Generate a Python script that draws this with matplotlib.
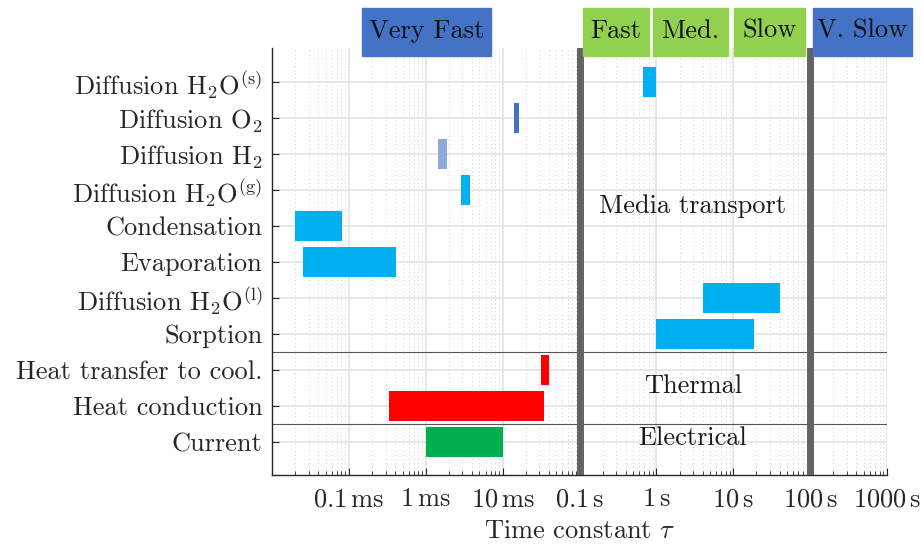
import numpy as np
import matplotlib
matplotlib.use('Agg')
import matplotlib.pyplot as plt
from matplotlib.patches import Rectangle
from matplotlib.ticker import LogLocator, NullFormatter

plt.rcParams['font.family'] = 'serif'
plt.rcParams['font.serif'] = ['cmr10']
plt.rcParams['mathtext.fontset'] = 'cm'
plt.rcParams['axes.formatter.use_mathtext'] = True
FS = 19

# processes, bottom to top; start/end of each time constant range in seconds
labels = ['Current', 'Heat conduction', 'Heat transfer to cool.', 'Sorption',
          r'Diffusion H$_2$O$^{\mathrm{(l)}}$', 'Evaporation', 'Condensation',
          r'Diffusion H$_2$O$^{\mathrm{(g)}}$', r'Diffusion H$_2$',
          r'Diffusion O$_2$', r'Diffusion H$_2$O$^{\mathrm{(s)}}$']
t_start = [1.0e-3, 3.3e-4, 3.2e-2, 1.0, 4.0, 2.5e-5, 2.0e-5, 2.85e-3, 1.43e-3, 1.39e-2, 0.66]
t_end = [1.0e-2, 3.5e-2, 4.0e-2, 18.4, 40.0, 4.1e-4, 8.2e-5, 3.75e-3, 1.9e-3, 1.65e-2, 1.0]
colors = ['#00b050', '#ff0000', '#ff0000', '#00b0f0', '#00b0f0', '#00b0f0', '#00b0f0',
          '#00b0f0', '#8eaadb', '#4472c4', '#00b0f0']

tick_vals = [1e-4, 1e-3, 1e-2, 1e-1, 1, 10, 100, 1000]
tick_labels = [r'$0.1\,\mathrm{ms}$', r'$1\,\mathrm{ms}$', r'$10\,\mathrm{ms}$', r'$0.1\,\mathrm{s}$',
               r'$1\,\mathrm{s}$', r'$10\,\mathrm{s}$', r'$100\,\mathrm{s}$', r'$1000\,\mathrm{s}$']
class_bounds = [0.1, 100]   # thick lines between speed classes
group_bounds = [1.5, 3.5]   # electrical / thermal / media
groups = ['Media transport', 'Thermal', 'Electrical']
group_y = [7.56, 2.54, 1.11]

# header boxes (pixel boxes left, right) and colours
headers = ['Very Fast', 'Fast', 'Med.', 'Slow', 'V. Slow']
head_px = [(362, 491), (583, 649), (653, 728), (734, 805), (813, 912)]
head_col = ['#4472c4', '#92d050', '#92d050', '#92d050', '#4472c4']

W, H = 923, 549
fig = plt.figure(figsize=(W / 100, H / 100), dpi=100)
ax = fig.add_axes([272 / W, 1 - 475 / H, (887 - 272) / W, (475 - 48) / H])

y = np.arange(1, len(labels) + 1)
widths = np.array(t_end) - np.array(t_start)
ax.barh(y, widths, left=t_start, height=0.84, color=colors, zorder=3)

ax.set_xscale('log')
ax.set_xlim(1e-5, 1e3)
ax.set_ylim(0.08, 11.94)
ax.set_xticks(tick_vals)
ax.set_xticklabels(tick_labels)
ax.xaxis.set_minor_locator(LogLocator(base=10, subs=np.arange(2, 10), numticks=20))
ax.xaxis.set_minor_formatter(NullFormatter())
ax.set_yticks(y)
ax.set_yticklabels(labels)

ax.grid(True, which='major', color='#e3e3e3', lw=1.2, zorder=0)
ax.grid(True, which='minor', axis='x', color='#cfcfcf', lw=0.7, ls=(0, (1, 3)), zorder=0)
ax.set_axisbelow(True)

for b in class_bounds:
    ax.axvline(b, color='#636363', lw=5, zorder=4)
for g in group_bounds:
    ax.axhline(g, color='#555555', lw=0.8, zorder=2)

for name, gy in zip(groups, group_y):
    ax.text(3.0, gy, name, ha='center', va='center', fontsize=FS, color='#1a1a1a')

for s in ['top', 'right']:
    ax.spines[s].set_visible(False)
for s in ['left', 'bottom']:
    ax.spines[s].set_color('#262626')
    ax.spines[s].set_linewidth(1.0)
ax.tick_params(which='both', direction='in', colors='#262626', labelsize=FS)
ax.tick_params(which='major', length=5, pad=7)
ax.tick_params(axis='x', which='major', pad=9)
ax.tick_params(which='minor', length=3)
ax.set_xlabel(r'Time constant $\tau$', fontsize=FS, color='#262626', labelpad=6)

for name, (x0, x1), c in zip(headers, head_px, head_col):
    fig.patches.append(Rectangle((x0 / W, 1 - 55.7 / H), (x1 - x0) / W, 47.7 / H,
                                 transform=fig.transFigure, color=c, zorder=5))
    fig.text((x0 + x1) / 2 / W, 1 - 31 / H, name, ha='center', va='center',
             fontsize=FS, color='#111111', zorder=6)

fig.savefig('out.png', dpi=100)
